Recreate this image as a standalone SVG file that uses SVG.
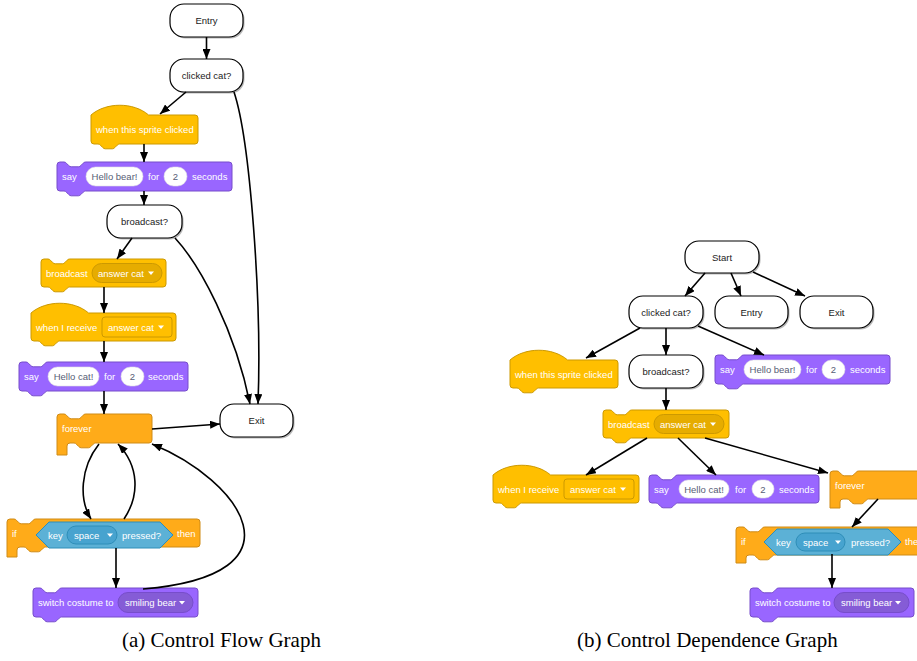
<svg xmlns="http://www.w3.org/2000/svg" width="917" height="661" viewBox="0 0 917 661">
<defs>
<style>
.nd{fill:#fff;stroke:#000;stroke-width:1.2}
.sh{fill:#888;opacity:.6}
.nt{font-family:"Liberation Sans",Arial,sans-serif;font-size:9.5px;fill:#222;text-anchor:middle}
.bt{font-family:"Liberation Sans",Arial,sans-serif;font-size:9.5px;fill:#fff}
.ft{font-family:"Liberation Sans",Arial,sans-serif;font-size:9.5px;fill:#575E75;text-anchor:middle}
.ev{fill:#FFBF00;stroke:#CC9900;stroke-width:1}
.evd{fill:#E6AC00;stroke:#CC9900;stroke-width:1}
.evf{fill:#FFBF00;stroke:#CC9900;stroke-width:1}
.lk{fill:#9966FF;stroke:#774DCB;stroke-width:1}
.lkd{fill:#855CD6;stroke:#774DCB;stroke-width:1}
.ct{fill:#FFAB19;stroke:#CF8B17;stroke-width:1}
.se{fill:#5CB1D6;stroke:#2E8EB8;stroke-width:1}
.sed{fill:#47A3CF;stroke:#2E8EB8;stroke-width:1}
.wf{fill:#fff;stroke:#e0e0e0;stroke-width:.6}
.tri{fill:#fff}
.ed{fill:none;stroke:#000;stroke-width:1.6;marker-end:url(#ah)}
.cap{font-family:"Liberation Serif","Times New Roman",serif;font-size:21px;fill:#000}
</style>
<marker id="ah" viewBox="0 0 10 8" refX="10" refY="4" markerWidth="10" markerHeight="8" markerUnits="userSpaceOnUse" orient="auto"><path d="M0,0 L10,4 L0,8 Z" fill="#000"/></marker>
</defs>
<rect width="917" height="661" fill="#fff"/>

<!-- ===== (a) Control Flow Graph ===== -->
<g id="a-entry"><rect class="sh" x="171.5" y="5.5" width="73" height="33" rx="14"/><rect class="nd" x="170" y="4" width="73" height="33" rx="14"/><text class="nt" x="206.5" y="24">Entry</text></g>
<g id="a-clicked"><rect class="sh" x="171.5" y="60.5" width="73" height="33" rx="14"/><rect class="nd" x="170" y="59" width="73" height="33" rx="14"/><text class="nt" x="206.5" y="79">clicked cat?</text></g>

<g id="a-hat-clicked" transform="translate(91,115)">
<path class="ev" d="M0,0 c15,-13 42.6,-13 57.6,0 H104 A3,3 0 0 1 107,3 V26 A3,3 0 0 1 104,29 H28.6 c-1.2,0 -1.8,0.6 -2.4,1.2 l-2.4,2.4 c-0.6,0.6 -1.2,1.2 -2.4,1.2 h-7.2 c-1.2,0 -1.8,-0.6 -2.4,-1.2 l-2.4,-2.4 c-0.6,-0.6 -1.2,-1.2 -2.4,-1.2 H3 A3,3 0 0 1 0,26 Z"/>
<text class="bt" x="5" y="18">when this sprite clicked</text>
</g>

<g id="a-say-bear" transform="translate(57,162)">
<path class="lk" d="M0,3 A3,3 0 0 1 3,0 H7 c1.2,0 1.8,0.6 2.4,1.2 l2.4,2.4 c0.6,0.6 1.2,1.2 2.4,1.2 h7.2 c1.2,0 1.8,-0.6 2.4,-1.2 l2.4,-2.4 c0.6,-0.6 1.2,-1.2 2.4,-1.2 H172 A3,3 0 0 1 175,3 V26 A3,3 0 0 1 172,29 H28.6 c-1.2,0 -1.8,0.6 -2.4,1.2 l-2.4,2.4 c-0.6,0.6 -1.2,1.2 -2.4,1.2 h-7.2 c-1.2,0 -1.8,-0.6 -2.4,-1.2 l-2.4,-2.4 c-0.6,-0.6 -1.2,-1.2 -2.4,-1.2 H3 A3,3 0 0 1 0,26 Z"/>
<text class="bt" x="5" y="18">say</text>
<rect class="wf" x="29" y="5" width="57" height="19" rx="9.5"/><text class="ft" x="57.5" y="18">Hello bear!</text>
<text class="bt" x="91" y="18">for</text>
<rect class="wf" x="107" y="5" width="23" height="19" rx="9.5"/><text class="ft" x="118.5" y="18">2</text>
<text class="bt" x="135" y="18">seconds</text>
</g>

<g id="a-broadcast-q"><rect class="sh" x="108.5" y="206.5" width="75" height="33" rx="14"/><rect class="nd" x="107" y="205" width="75" height="33" rx="14"/><text class="nt" x="144.5" y="225">broadcast?</text></g>

<g id="a-broadcast" transform="translate(41,259)">
<path class="ev" d="M0,3 A3,3 0 0 1 3,0 H7 c1.2,0 1.8,0.6 2.4,1.2 l2.4,2.4 c0.6,0.6 1.2,1.2 2.4,1.2 h7.2 c1.2,0 1.8,-0.6 2.4,-1.2 l2.4,-2.4 c0.6,-0.6 1.2,-1.2 2.4,-1.2 H122 A3,3 0 0 1 125,3 V25 A3,3 0 0 1 122,28 H28.6 c-1.2,0 -1.8,0.6 -2.4,1.2 l-2.4,2.4 c-0.6,0.6 -1.2,1.2 -2.4,1.2 h-7.2 c-1.2,0 -1.8,-0.6 -2.4,-1.2 l-2.4,-2.4 c-0.6,-0.6 -1.2,-1.2 -2.4,-1.2 H3 A3,3 0 0 1 0,25 Z"/>
<text class="bt" x="5" y="17.5">broadcast</text>
<rect class="evd" x="51" y="4.5" width="70" height="19" rx="9.5"/>
<text class="bt" x="57" y="17.5">answer cat</text>
<path class="tri" d="M107,12.5 h6 l-3,3.6 z"/>
</g>

<g id="a-receive" transform="translate(31,313)">
<path class="ev" d="M0,0 c15,-13 42.6,-13 57.6,0 H142 A3,3 0 0 1 145,3 V25 A3,3 0 0 1 142,28 H28.6 c-1.2,0 -1.8,0.6 -2.4,1.2 l-2.4,2.4 c-0.6,0.6 -1.2,1.2 -2.4,1.2 h-7.2 c-1.2,0 -1.8,-0.6 -2.4,-1.2 l-2.4,-2.4 c-0.6,-0.6 -1.2,-1.2 -2.4,-1.2 H3 A3,3 0 0 1 0,25 Z"/>
<text class="bt" x="5" y="17.5">when I receive</text>
<rect class="evf" x="71" y="4" width="70" height="20" rx="3"/>
<text class="bt" x="77" y="17.5">answer cat</text>
<path class="tri" d="M127,12.5 h6 l-3,3.6 z"/>
</g>

<g id="a-say-cat" transform="translate(19,362)">
<path class="lk" d="M0,3 A3,3 0 0 1 3,0 H7 c1.2,0 1.8,0.6 2.4,1.2 l2.4,2.4 c0.6,0.6 1.2,1.2 2.4,1.2 h7.2 c1.2,0 1.8,-0.6 2.4,-1.2 l2.4,-2.4 c0.6,-0.6 1.2,-1.2 2.4,-1.2 H166 A3,3 0 0 1 169,3 V26 A3,3 0 0 1 166,29 H28.6 c-1.2,0 -1.8,0.6 -2.4,1.2 l-2.4,2.4 c-0.6,0.6 -1.2,1.2 -2.4,1.2 h-7.2 c-1.2,0 -1.8,-0.6 -2.4,-1.2 l-2.4,-2.4 c-0.6,-0.6 -1.2,-1.2 -2.4,-1.2 H3 A3,3 0 0 1 0,26 Z"/>
<text class="bt" x="5" y="18">say</text>
<rect class="wf" x="29" y="5" width="51" height="19" rx="9.5"/><text class="ft" x="54.5" y="18">Hello cat!</text>
<text class="bt" x="85" y="18">for</text>
<rect class="wf" x="102" y="5" width="23" height="19" rx="9.5"/><text class="ft" x="113.5" y="18">2</text>
<text class="bt" x="129" y="18">seconds</text>
</g>

<g id="a-forever" transform="translate(57,414)">
<path class="ct" d="M0,3 A3,3 0 0 1 3,0 H7 c1.2,0 1.8,0.6 2.4,1.2 l2.4,2.4 c0.6,0.6 1.2,1.2 2.4,1.2 h7.2 c1.2,0 1.8,-0.6 2.4,-1.2 l2.4,-2.4 c0.6,-0.6 1.2,-1.2 2.4,-1.2 H92 A3,3 0 0 1 95,3 V26 A3,3 0 0 1 92,29 H38.6 c-1.2,0 -1.8,0.6 -2.4,1.2 l-2.4,2.4 c-0.6,0.6 -1.2,1.2 -2.4,1.2 h-7.2 c-1.2,0 -1.8,-0.6 -2.4,-1.2 l-2.4,-2.4 c-0.6,-0.6 -1.2,-1.2 -2.4,-1.2 H13 A3,3 0 0 0 10,32 V41 H0 Z"/>
<text class="bt" x="5" y="18">forever</text>
</g>

<g id="a-exit"><rect class="sh" x="221.5" y="405.5" width="73" height="33" rx="14"/><rect class="nd" x="220" y="404" width="73" height="33" rx="14"/><text class="nt" x="256.5" y="424">Exit</text></g>

<g id="a-if" transform="translate(7,519)">
<path class="ct" d="M0,3 A3,3 0 0 1 3,0 H7 c1.2,0 1.8,0.6 2.4,1.2 l2.4,2.4 c0.6,0.6 1.2,1.2 2.4,1.2 h7.2 c1.2,0 1.8,-0.6 2.4,-1.2 l2.4,-2.4 c0.6,-0.6 1.2,-1.2 2.4,-1.2 H190 A3,3 0 0 1 193,3 V25 A3,3 0 0 1 190,28 H38.6 c-1.2,0 -1.8,0.6 -2.4,1.2 l-2.4,2.4 c-0.6,0.6 -1.2,1.2 -2.4,1.2 h-7.2 c-1.2,0 -1.8,-0.6 -2.4,-1.2 l-2.4,-2.4 c-0.6,-0.6 -1.2,-1.2 -2.4,-1.2 H13 A3,3 0 0 0 10,31 V38 H0 Z"/>
<text class="bt" x="5" y="17.5">if</text>
<path class="se" d="M29,16 L42,3 H153 L166,16 L153,29 H42 Z"/>
<text class="bt" x="41" y="19.5">key</text>
<rect class="sed" x="60" y="7" width="50" height="18" rx="9"/>
<text class="bt" x="67" y="19.5">space</text>
<path class="tri" d="M100,14.5 h6 l-3,3.6 z"/>
<text class="bt" x="115" y="19.5">pressed?</text>
<text class="bt" x="170" y="17.5">then</text>
</g>

<g id="a-switch" transform="translate(33,588)">
<path class="lk" d="M0,3 A3,3 0 0 1 3,0 H7 c1.2,0 1.8,0.6 2.4,1.2 l2.4,2.4 c0.6,0.6 1.2,1.2 2.4,1.2 h7.2 c1.2,0 1.8,-0.6 2.4,-1.2 l2.4,-2.4 c0.6,-0.6 1.2,-1.2 2.4,-1.2 H162 A3,3 0 0 1 165,3 V26 A3,3 0 0 1 162,29 H28.6 c-1.2,0 -1.8,0.6 -2.4,1.2 l-2.4,2.4 c-0.6,0.6 -1.2,1.2 -2.4,1.2 h-7.2 c-1.2,0 -1.8,-0.6 -2.4,-1.2 l-2.4,-2.4 c-0.6,-0.6 -1.2,-1.2 -2.4,-1.2 H3 A3,3 0 0 1 0,26 Z"/>
<text class="bt" x="5" y="18">switch costume to</text>
<rect class="lkd" x="85" y="4.5" width="75" height="20" rx="10"/>
<text class="bt" x="92" y="18">smiling bear</text>
<path class="tri" d="M146,13 h6 l-3,3.6 z"/>
</g>

<!-- ===== (b) Control Dependence Graph ===== -->
<g id="b-start"><rect class="sh" x="686.5" y="242.5" width="74" height="32" rx="14"/><rect class="nd" x="685" y="241" width="74" height="32" rx="14"/><text class="nt" x="722" y="260.5">Start</text></g>
<g id="b-clicked"><rect class="sh" x="630.5" y="297.5" width="74" height="32" rx="14"/><rect class="nd" x="629" y="296" width="74" height="32" rx="14"/><text class="nt" x="666" y="315.5">clicked cat?</text></g>
<g id="b-entry"><rect class="sh" x="716.5" y="297.5" width="73" height="32" rx="14"/><rect class="nd" x="715" y="296" width="73" height="32" rx="14"/><text class="nt" x="751.5" y="315.5">Entry</text></g>
<g id="b-exit"><rect class="sh" x="801.5" y="297.5" width="73" height="32" rx="14"/><rect class="nd" x="800" y="296" width="73" height="32" rx="14"/><text class="nt" x="836.5" y="315.5">Exit</text></g>

<g id="b-hat-clicked" transform="translate(510,360)">
<path class="ev" d="M0,0 c15,-13 42.6,-13 57.6,0 H105 A3,3 0 0 1 108,3 V25 A3,3 0 0 1 105,28 H28.6 c-1.2,0 -1.8,0.6 -2.4,1.2 l-2.4,2.4 c-0.6,0.6 -1.2,1.2 -2.4,1.2 h-7.2 c-1.2,0 -1.8,-0.6 -2.4,-1.2 l-2.4,-2.4 c-0.6,-0.6 -1.2,-1.2 -2.4,-1.2 H3 A3,3 0 0 1 0,25 Z"/>
<text class="bt" x="5" y="17.5">when this sprite clicked</text>
</g>

<g id="b-broadcast-q"><rect class="sh" x="630.5" y="356.5" width="74" height="33" rx="14"/><rect class="nd" x="629" y="355" width="74" height="33" rx="14"/><text class="nt" x="666" y="375">broadcast?</text></g>

<g id="b-say-bear" transform="translate(715,355)">
<path class="lk" d="M0,3 A3,3 0 0 1 3,0 H7 c1.2,0 1.8,0.6 2.4,1.2 l2.4,2.4 c0.6,0.6 1.2,1.2 2.4,1.2 h7.2 c1.2,0 1.8,-0.6 2.4,-1.2 l2.4,-2.4 c0.6,-0.6 1.2,-1.2 2.4,-1.2 H172 A3,3 0 0 1 175,3 V26 A3,3 0 0 1 172,29 H28.6 c-1.2,0 -1.8,0.6 -2.4,1.2 l-2.4,2.4 c-0.6,0.6 -1.2,1.2 -2.4,1.2 h-7.2 c-1.2,0 -1.8,-0.6 -2.4,-1.2 l-2.4,-2.4 c-0.6,-0.6 -1.2,-1.2 -2.4,-1.2 H3 A3,3 0 0 1 0,26 Z"/>
<text class="bt" x="5" y="18">say</text>
<rect class="wf" x="29" y="5" width="57" height="19" rx="9.5"/><text class="ft" x="57.5" y="18">Hello bear!</text>
<text class="bt" x="91" y="18">for</text>
<rect class="wf" x="107" y="5" width="23" height="19" rx="9.5"/><text class="ft" x="118.5" y="18">2</text>
<text class="bt" x="135" y="18">seconds</text>
</g>

<g id="b-broadcast" transform="translate(603,410)">
<path class="ev" d="M0,3 A3,3 0 0 1 3,0 H7 c1.2,0 1.8,0.6 2.4,1.2 l2.4,2.4 c0.6,0.6 1.2,1.2 2.4,1.2 h7.2 c1.2,0 1.8,-0.6 2.4,-1.2 l2.4,-2.4 c0.6,-0.6 1.2,-1.2 2.4,-1.2 H123 A3,3 0 0 1 126,3 V25 A3,3 0 0 1 123,28 H28.6 c-1.2,0 -1.8,0.6 -2.4,1.2 l-2.4,2.4 c-0.6,0.6 -1.2,1.2 -2.4,1.2 h-7.2 c-1.2,0 -1.8,-0.6 -2.4,-1.2 l-2.4,-2.4 c-0.6,-0.6 -1.2,-1.2 -2.4,-1.2 H3 A3,3 0 0 1 0,25 Z"/>
<text class="bt" x="5" y="17.5">broadcast</text>
<rect class="evd" x="51" y="4.5" width="70" height="19" rx="9.5"/>
<text class="bt" x="57" y="17.5">answer cat</text>
<path class="tri" d="M107,12.5 h6 l-3,3.6 z"/>
</g>

<g id="b-receive" transform="translate(493,475)">
<path class="ev" d="M0,0 c15,-13 42.6,-13 57.6,0 H143 A3,3 0 0 1 146,3 V25 A3,3 0 0 1 143,28 H28.6 c-1.2,0 -1.8,0.6 -2.4,1.2 l-2.4,2.4 c-0.6,0.6 -1.2,1.2 -2.4,1.2 h-7.2 c-1.2,0 -1.8,-0.6 -2.4,-1.2 l-2.4,-2.4 c-0.6,-0.6 -1.2,-1.2 -2.4,-1.2 H3 A3,3 0 0 1 0,25 Z"/>
<text class="bt" x="5" y="17.5">when I receive</text>
<rect class="evf" x="71" y="4" width="70" height="20" rx="3"/>
<text class="bt" x="77" y="17.5">answer cat</text>
<path class="tri" d="M127,12.5 h6 l-3,3.6 z"/>
</g>

<g id="b-say-cat" transform="translate(649,475)">
<path class="lk" d="M0,3 A3,3 0 0 1 3,0 H7 c1.2,0 1.8,0.6 2.4,1.2 l2.4,2.4 c0.6,0.6 1.2,1.2 2.4,1.2 h7.2 c1.2,0 1.8,-0.6 2.4,-1.2 l2.4,-2.4 c0.6,-0.6 1.2,-1.2 2.4,-1.2 H167 A3,3 0 0 1 170,3 V25 A3,3 0 0 1 167,28 H28.6 c-1.2,0 -1.8,0.6 -2.4,1.2 l-2.4,2.4 c-0.6,0.6 -1.2,1.2 -2.4,1.2 h-7.2 c-1.2,0 -1.8,-0.6 -2.4,-1.2 l-2.4,-2.4 c-0.6,-0.6 -1.2,-1.2 -2.4,-1.2 H3 A3,3 0 0 1 0,25 Z"/>
<text class="bt" x="5" y="17.5">say</text>
<rect class="wf" x="30" y="5" width="50" height="18" rx="9"/><text class="ft" x="55" y="17.5">Hello cat!</text>
<text class="bt" x="86" y="17.5">for</text>
<rect class="wf" x="103" y="5" width="22" height="18" rx="9"/><text class="ft" x="114" y="17.5">2</text>
<text class="bt" x="130" y="17.5">seconds</text>
</g>

<g id="b-forever" transform="translate(830,471)">
<path class="ct" d="M0,3 A3,3 0 0 1 3,0 H7 c1.2,0 1.8,0.6 2.4,1.2 l2.4,2.4 c0.6,0.6 1.2,1.2 2.4,1.2 h7.2 c1.2,0 1.8,-0.6 2.4,-1.2 l2.4,-2.4 c0.6,-0.6 1.2,-1.2 2.4,-1.2 H117 A3,3 0 0 1 120,3 V25 A3,3 0 0 1 117,28 H38.6 c-1.2,0 -1.8,0.6 -2.4,1.2 l-2.4,2.4 c-0.6,0.6 -1.2,1.2 -2.4,1.2 h-7.2 c-1.2,0 -1.8,-0.6 -2.4,-1.2 l-2.4,-2.4 c-0.6,-0.6 -1.2,-1.2 -2.4,-1.2 H13 A3,3 0 0 0 10,31 V37 H0 Z"/>
<text class="bt" x="5" y="17.5">forever</text>
</g>

<g id="b-if" transform="translate(736,527)">
<path class="ct" d="M0,3 A3,3 0 0 1 3,0 H7 c1.2,0 1.8,0.6 2.4,1.2 l2.4,2.4 c0.6,0.6 1.2,1.2 2.4,1.2 h7.2 c1.2,0 1.8,-0.6 2.4,-1.2 l2.4,-2.4 c0.6,-0.6 1.2,-1.2 2.4,-1.2 H197 A3,3 0 0 1 200,3 V25 A3,3 0 0 1 197,28 H38.6 c-1.2,0 -1.8,0.6 -2.4,1.2 l-2.4,2.4 c-0.6,0.6 -1.2,1.2 -2.4,1.2 h-7.2 c-1.2,0 -1.8,-0.6 -2.4,-1.2 l-2.4,-2.4 c-0.6,-0.6 -1.2,-1.2 -2.4,-1.2 H13 A3,3 0 0 0 10,31 V36 H0 Z"/>
<text class="bt" x="5" y="17.5">if</text>
<path class="se" d="M28,15 L41,2 H152 L165,15 L152,28 H41 Z"/>
<text class="bt" x="40" y="18.5">key</text>
<rect class="sed" x="60" y="6" width="49" height="18" rx="9"/>
<text class="bt" x="67" y="18.5">space</text>
<path class="tri" d="M99,13.5 h6 l-3,3.6 z"/>
<text class="bt" x="115" y="18.5">pressed?</text>
<text class="bt" x="169" y="17.5">then</text>
</g>

<g id="b-switch" transform="translate(750,588)">
<path class="lk" d="M0,3 A3,3 0 0 1 3,0 H7 c1.2,0 1.8,0.6 2.4,1.2 l2.4,2.4 c0.6,0.6 1.2,1.2 2.4,1.2 h7.2 c1.2,0 1.8,-0.6 2.4,-1.2 l2.4,-2.4 c0.6,-0.6 1.2,-1.2 2.4,-1.2 H161 A3,3 0 0 1 164,3 V26 A3,3 0 0 1 161,29 H28.6 c-1.2,0 -1.8,0.6 -2.4,1.2 l-2.4,2.4 c-0.6,0.6 -1.2,1.2 -2.4,1.2 h-7.2 c-1.2,0 -1.8,-0.6 -2.4,-1.2 l-2.4,-2.4 c-0.6,-0.6 -1.2,-1.2 -2.4,-1.2 H3 A3,3 0 0 1 0,26 Z"/>
<text class="bt" x="5" y="18">switch costume to</text>
<rect class="lkd" x="84" y="4.5" width="75" height="20" rx="10"/>
<text class="bt" x="91" y="18">smiling bear</text>
<path class="tri" d="M145,13 h6 l-3,3.6 z"/>
</g>

<!-- ===== connectors ===== -->
<g id="connectors">
<path class="ed" d="M206.5,37 V59"/>
<path class="ed" d="M186,92 L160,114"/>
<path class="ed" d="M144,144 V162"/>
<path class="ed" d="M144,191 V205"/>
<path class="ed" d="M132,238 L117,259"/>
<path class="ed" d="M104,287 V313"/>
<path class="ed" d="M104,341 V362"/>
<path class="ed" d="M104,391 V414"/>
<path class="ed" d="M152,429 L220,424"/>
<path class="ed" d="M99,444 C80,468 79,500 91,519"/>
<path class="ed" d="M124,519 C140,495 139,466 118,444"/>
<path class="ed" d="M116,548 V588"/>
<path class="ed" d="M143,589 C310,575 240,480 152,444"/>
<path class="ed" d="M234,92 C250,140 262,300 258,404"/>
<path class="ed" d="M175,238 C200,265 235,330 250,404"/>

<path class="ed" d="M705,273 L685,296"/>
<path class="ed" d="M731,273 L741,296"/>
<path class="ed" d="M753,272 L805,296"/>
<path class="ed" d="M640,328 L586,358"/>
<path class="ed" d="M666,328 V355"/>
<path class="ed" d="M698,326 L764,355"/>
<path class="ed" d="M666,388 V410"/>
<path class="ed" d="M647,438 L586,475"/>
<path class="ed" d="M678,438 L716,475"/>
<path class="ed" d="M705,438 L828,473"/>
<path class="ed" d="M878,499 L852,527"/>
<path class="ed" d="M832,554 V588"/>
</g>

<text class="cap" x="122" y="647">(a) Control Flow Graph</text>
<text class="cap" x="577" y="647">(b) Control Dependence Graph</text>
</svg>
